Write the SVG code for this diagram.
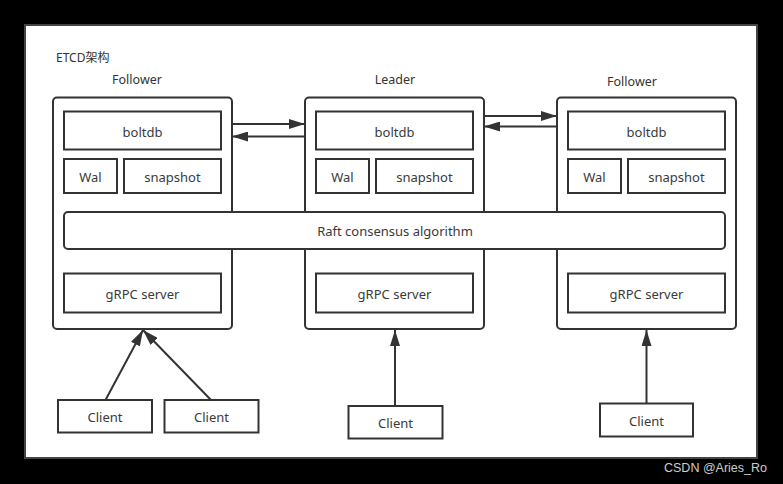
<svg xmlns="http://www.w3.org/2000/svg" width="783" height="484" viewBox="0 0 783 484">
<style>
.box{fill:#fff;stroke:#333;stroke-width:2}
.t{font-family:"Noto Sans","Open Sans",sans-serif;font-size:13px;fill:#3a3a3a;text-anchor:middle}
.lbl{font-family:"Noto Sans","Open Sans",sans-serif;font-size:12.5px;fill:#333;text-anchor:middle}
.c{fill:none;stroke:#333;stroke-width:2}
</style>
<defs>
<marker id="ah2" viewBox="0 0 10 10" refX="10" refY="5" markerWidth="16" markerHeight="10" markerUnits="userSpaceOnUse" orient="auto" preserveAspectRatio="none">
<path d="M0,0 L10,5 L0,10 Z" fill="#333"/>
</marker>
</defs>
<rect x="0" y="0" width="783" height="484" fill="#000"/>
<rect x="25" y="25" width="732" height="433" fill="#fff" stroke="#444" stroke-width="2"/>
<text x="56" y="62" style="font-family:'Noto Sans','Noto Sans CJK SC',sans-serif;font-size:12px;fill:#333">ETCD架构</text>
<text class="lbl" x="137" y="84">Follower</text>
<text class="lbl" x="395" y="84">Leader</text>
<text class="lbl" x="632" y="86">Follower</text>

<g id="follower1">
<rect class="box" x="53" y="97.5" width="179" height="231.5" rx="4"/>
<rect class="box" x="64" y="111.5" width="157" height="38"/><text class="t" x="142.5" y="136.5">boltdb</text>
<rect class="box" x="64" y="159" width="53" height="34"/><text class="t" x="90.5" y="182">Wal</text>
<rect class="box" x="124" y="159" width="97" height="34"/><text class="t" x="172.5" y="182">snapshot</text>
<rect class="box" x="64" y="273.5" width="157" height="39"/><text class="t" x="142.5" y="299">gRPC server</text>
</g>
<g id="leader">
<rect class="box" x="305" y="97.5" width="179" height="231.5" rx="4"/>
<rect class="box" x="316" y="111.5" width="157" height="38"/><text class="t" x="394.5" y="136.5">boltdb</text>
<rect class="box" x="316" y="159" width="53" height="34"/><text class="t" x="342.5" y="182">Wal</text>
<rect class="box" x="376" y="159" width="97" height="34"/><text class="t" x="424.5" y="182">snapshot</text>
<rect class="box" x="316" y="273.5" width="157" height="39"/><text class="t" x="394.5" y="299">gRPC server</text>
</g>
<g id="follower2">
<rect class="box" x="557" y="97.5" width="179" height="231.5" rx="4"/>
<rect class="box" x="568" y="111.5" width="157" height="38"/><text class="t" x="646.5" y="136.5">boltdb</text>
<rect class="box" x="568" y="159" width="53" height="34"/><text class="t" x="594.5" y="182">Wal</text>
<rect class="box" x="628" y="159" width="97" height="34"/><text class="t" x="676.5" y="182">snapshot</text>
<rect class="box" x="568" y="273.5" width="157" height="39"/><text class="t" x="646.5" y="299">gRPC server</text>
</g>
<g id="raft">
<rect class="box" x="64" y="212" width="661" height="37" rx="4"/>
<text class="t" x="395" y="236">Raft consensus algorithm</text>
</g>
<g id="client1"><rect class="box" x="58" y="400" width="94" height="32.5"/><text class="t" x="105" y="422">Client</text></g>
<g id="client2"><rect class="box" x="164.5" y="400" width="94" height="32.5"/><text class="t" x="211.5" y="422">Client</text></g>
<g id="client3"><rect class="box" x="348.5" y="406" width="94" height="32.5"/><text class="t" x="395.5" y="428">Client</text></g>
<g id="client4"><rect class="box" x="600" y="403.5" width="93" height="33"/><text class="t" x="646.5" y="426">Client</text></g>

<g id="connectors">
<line class="c" x1="232" y1="124" x2="305" y2="124" marker-end="url(#ah2)"/>
<line class="c" x1="305" y1="136.5" x2="232" y2="136.5" marker-end="url(#ah2)"/>
<line class="c" x1="484" y1="116" x2="557" y2="116" marker-end="url(#ah2)"/>
<line class="c" x1="557" y1="126.5" x2="484" y2="126.5" marker-end="url(#ah2)"/>
<line class="c" x1="105.5" y1="400" x2="143" y2="330" marker-end="url(#ah2)"/>
<line class="c" x1="211" y1="400" x2="143" y2="330" marker-end="url(#ah2)"/>
<line class="c" x1="395" y1="406" x2="395" y2="330" marker-end="url(#ah2)"/>
<line class="c" x1="646.5" y1="403.5" x2="646.5" y2="330" marker-end="url(#ah2)"/>
</g>
<text x="767" y="472" style="font-family:'Liberation Sans',Arial,sans-serif;font-size:12.5px;fill:#ccc;text-anchor:end">CSDN @Aries_Ro</text>
</svg>
